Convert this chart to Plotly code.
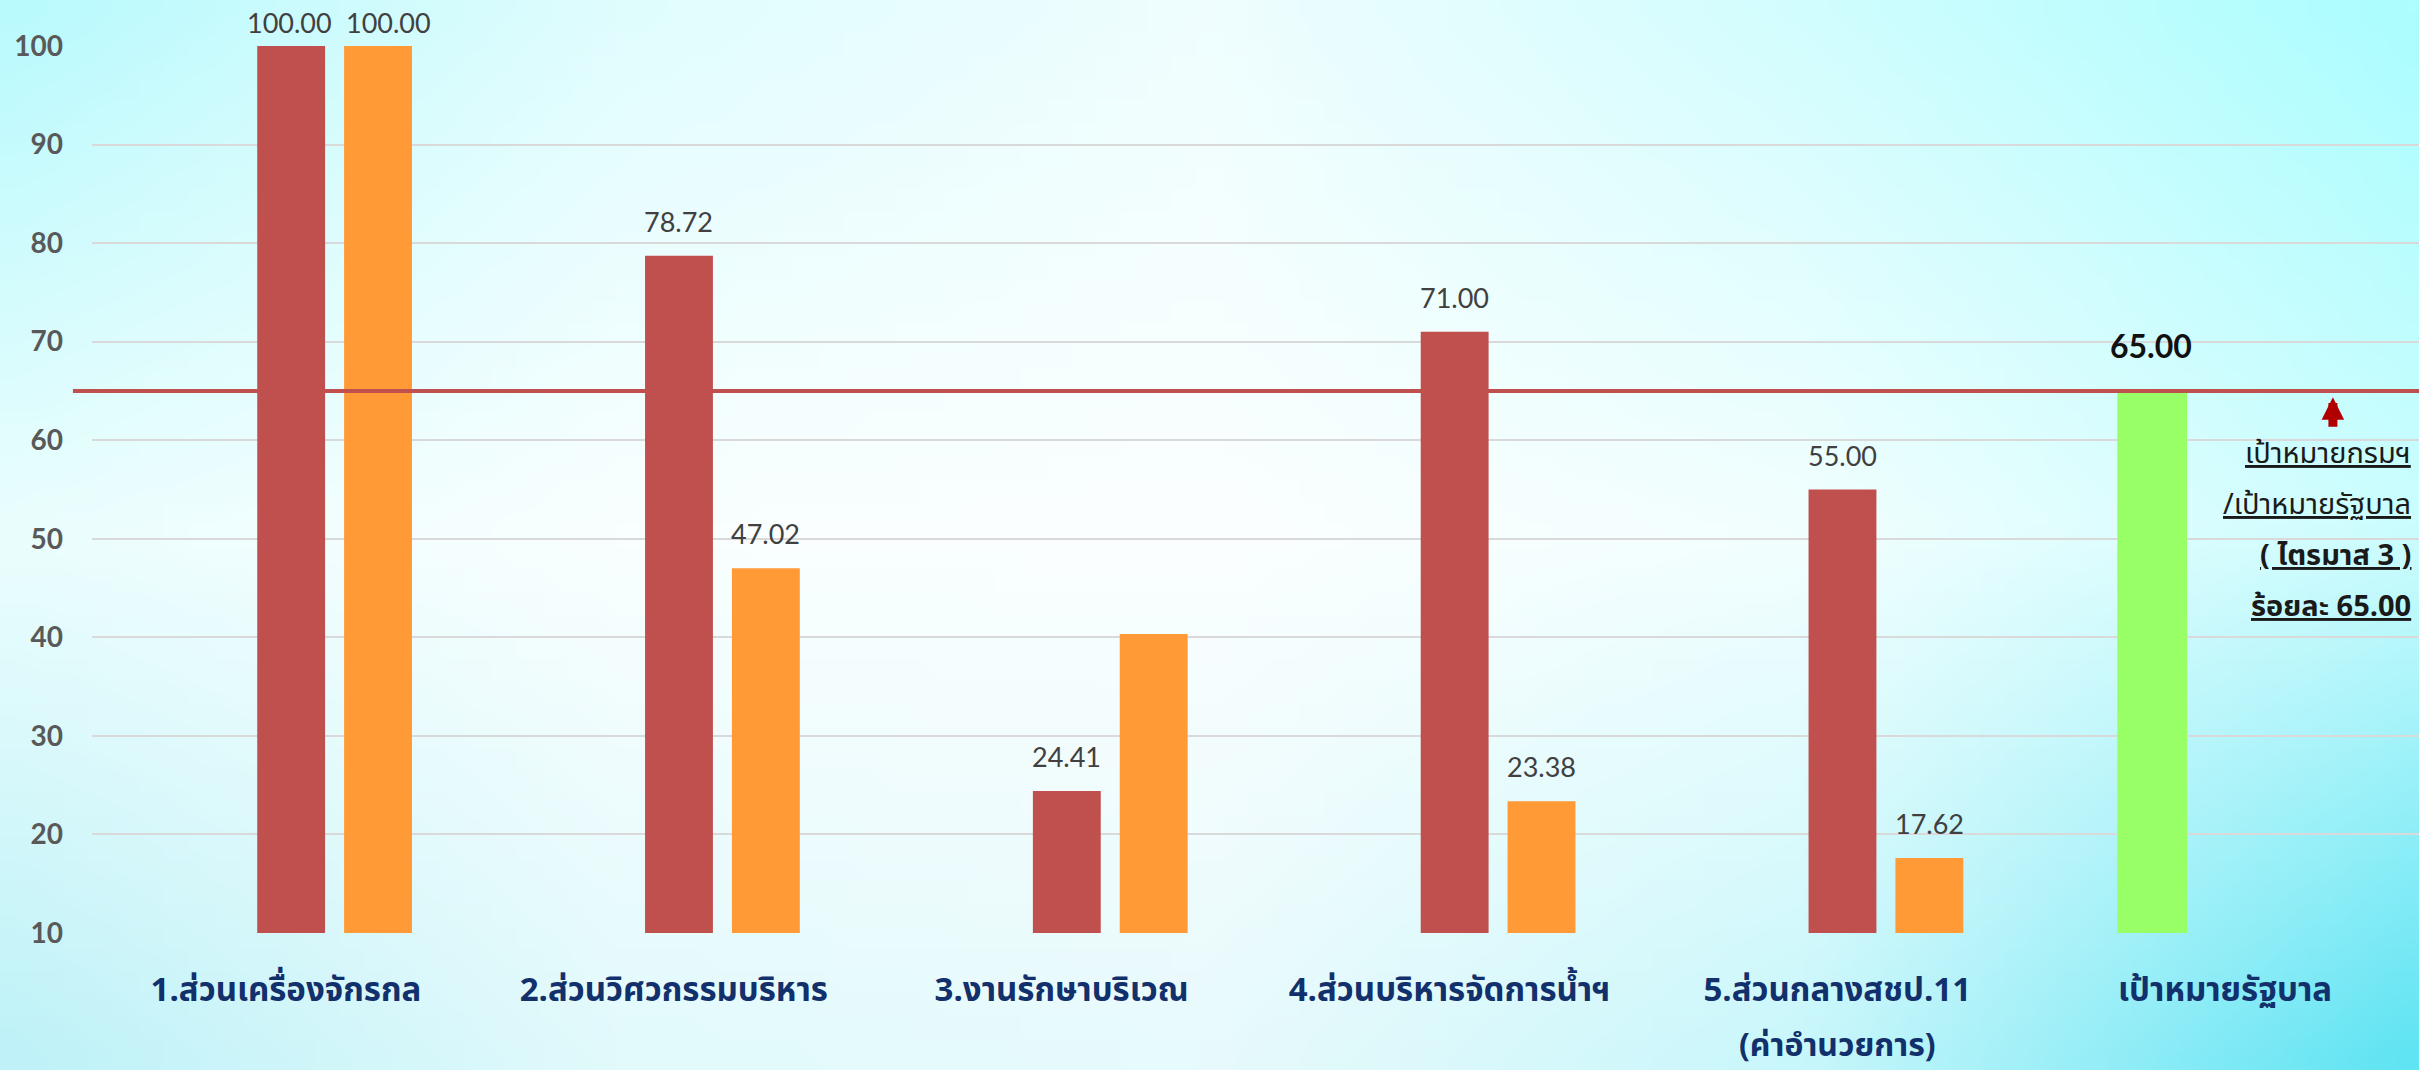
import base64
import struct
import zlib

import numpy as np
import plotly.graph_objects as go

CATEGORIES = [
    "1.ส่วนเครื่องจักรกล",
    "2.ส่วนวิศวกรรมบริหาร",
    "3.งานรักษาบริเวณ",
    "4.ส่วนบริหารจัดการน้ำฯ",
    "5.ส่วนกลางสชป.11",
    "เป้าหมายรัฐบาล",
]
# second line under a category label (widely spaced in the original)
SUB_LABELS = ["", "", "", "", "(ค่าอำนวยการ)", ""]
RESULT_RED = [100.00, 78.72, 24.41, 71.00, 55.00, None]
RESULT_ORANGE = [100.00, 47.02, 40.35, 23.38, 17.62, None]
GOV_TARGET = [None, None, None, None, None, 65.00]
# the original leaves the orange bar of item 3 unlabelled
LABEL_ORANGE = [True, True, False, True, True, False]
TARGET_LINE = 65.00
Y_TICKS = [10, 20, 30, 40, 50, 60, 70, 80, 90, 100]
NOTE_LINES = ["เป้าหมายกรมฯ", "/เป้าหมายรัฐบาล", "( ไตรมาส 3 )", "ร้อยละ 65.00"]
NOTE_BOLD = [False, False, True, True]

W, H = 2419, 1070
ML, MR, MT, MB = 92, 0, 46, 137
PW, PH = W - ML - MR, H - MT - MB

BAR_W = 0.175
OFF_RED, OFF_ORANGE, OFF_GREEN = -0.074, 0.150, -0.278

RED, ORANGE, GREEN = "#C0504D", "#FF9A36", "#99FF66"
NAVY = "#12306b"
NUM_FONT = "Lato, 'Noto Sans', sans-serif"
THAI_FONT = "'Noto Sans Thai', 'Noto Sans', Tahoma, sans-serif"


def gradient_png(stops, w=96, h=48):
    """Bilinear-upsample a small grid of RGB stops and return a PNG data uri."""
    stops = np.asarray(stops, dtype=float)
    ys = np.linspace(0, stops.shape[0] - 1, h)
    xs = np.linspace(0, stops.shape[1] - 1, w)
    rows = np.stack([np.stack([np.interp(xs, np.arange(stops.shape[1]), stops[r, :, c])
                               for c in range(3)], axis=-1) for r in range(stops.shape[0])])
    img = np.stack([np.stack([np.interp(ys, np.arange(stops.shape[0]), rows[:, x, c])
                              for c in range(3)], axis=-1) for x in range(w)], axis=1)
    img = img.clip(0, 255).astype(np.uint8)
    raw = b"".join(b"\x00" + img[i].tobytes() for i in range(h))

    def chunk(tag, data):
        body = tag + data
        return struct.pack(">I", len(data)) + body + struct.pack(">I", zlib.crc32(body) & 0xFFFFFFFF)

    png = (b"\x89PNG\r\n\x1a\n"
           + chunk(b"IHDR", struct.pack(">IIBBBBB", w, h, 8, 2, 0, 0, 0))
           + chunk(b"IDAT", zlib.compress(raw))
           + chunk(b"IEND", b""))
    return "data:image/png;base64," + base64.b64encode(png).decode()


# pale cyan slide background, brighter towards the corners
BG = gradient_png([
    [[185, 250, 253], [224, 253, 254], [240, 254, 255], [210, 253, 254], [172, 254, 255]],
    [[236, 254, 254], [250, 255, 255], [252, 255, 255], [243, 255, 255], [205, 253, 254]],
    [[190, 242, 248], [226, 250, 252], [232, 250, 252], [200, 247, 251], [95, 228, 243]],
])

fig = go.Figure()
for vals, off, color in [(RESULT_RED, OFF_RED, RED),
                         (RESULT_ORANGE, OFF_ORANGE, ORANGE),
                         (GOV_TARGET, OFF_GREEN, GREEN)]:
    fig.add_trace(go.Bar(
        x=CATEGORIES, y=vals,
        base=0, offset=off, width=BAR_W + (0.005 if color == GREEN else 0),
        marker=dict(color=color, line_width=0),
        showlegend=False,
    ))

# value labels sit well above the bars (tighter when clamped at the top)
annotations = []
for i, cat in enumerate(CATEGORIES):
    for vals, off, show, nudge in [(RESULT_RED, OFF_RED, True, -2),
                                   (RESULT_ORANGE, OFF_ORANGE, LABEL_ORANGE[i], 10)]:
        v = vals[i]
        if v is None or not show:
            continue
        annotations.append(dict(
            x=i + off + BAR_W / 2, y=v, xref="x", yref="y",
            text=f"{v:.2f}", showarrow=False, yanchor="bottom",
            yshift=5 if v >= 100 else 16, xshift=nudge if v >= 100 else 0,
            font=dict(family=NUM_FONT, size=27, color="#404040"),
        ))
    if GOV_TARGET[i] is not None:
        annotations.append(dict(
            x=i + OFF_GREEN + BAR_W / 2, y=GOV_TARGET[i], xref="x", yref="y",
            text=f"<b>{GOV_TARGET[i]:.2f}</b>", showarrow=False, yanchor="bottom",
            yshift=24, font=dict(family=NUM_FONT, size=32, color="#111111"),
        ))
    if SUB_LABELS[i]:
        annotations.append(dict(
            x=cat, y=-0.127, xref="x", yref="paper",
            text=f"<b>{SUB_LABELS[i]}</b>", showarrow=False, yanchor="middle",
            font=dict(family=THAI_FONT, size=32, color=NAVY),
        ))

# note under the target arrow on the right
for k, (line, bold) in enumerate(zip(NOTE_LINES, NOTE_BOLD)):
    txt = f"<u>{line}</u>"
    if bold:
        txt = f"<b>{txt}</b>"
    annotations.append(dict(
        x=0.9975, y=0.540 - k * 0.0575, xref="paper", yref="paper",
        text=txt, showarrow=False, xanchor="right", yanchor="middle",
        font=dict(family=THAI_FONT, size=29, color="#1a1a1a"),
    ))
annotations.append(dict(
    x=0.963, y=0.604, xref="paper", yref="paper", text="",
    showarrow=True, ax=0, ay=31, arrowhead=2, arrowsize=0.5,
    arrowwidth=9, arrowcolor="#B00000",
))

fig.add_shape(
    type="line", xref="paper", yref="y",
    x0=-0.0082, x1=1, y0=TARGET_LINE, y1=TARGET_LINE,
    line=dict(color=RED, width=4), layer="above",
)

fig.update_layout(
    width=W, height=H,
    margin=dict(l=ML, r=MR, t=MT, b=MB, pad=0),
    paper_bgcolor="#eafcfd",
    plot_bgcolor="rgba(0,0,0,0)",
    barmode="overlay",
    annotations=annotations,
    images=[dict(
        source=BG, xref="paper", yref="paper",
        x=-ML / PW, y=1 + MT / PH, sizex=W / PW, sizey=H / PH,
        xanchor="left", yanchor="top", sizing="stretch", layer="below",
    )],
)
fig.update_xaxes(
    type="category", range=[-0.5, len(CATEGORIES) - 0.5],
    showgrid=False, showline=False, zeroline=False, ticks="",
    automargin=False, ticklabelstandoff=34,
    tickfont=dict(family=THAI_FONT, size=33, color=NAVY, weight="bold"),
)
fig.update_yaxes(
    range=[10, 100], tickvals=Y_TICKS,
    showgrid=True, gridcolor="#d9d9d9", gridwidth=2,
    zeroline=False, showline=False, ticks="",
    automargin=False, ticklabelstandoff=28,
    tickfont=dict(family=NUM_FONT, size=28, color="#595959", weight="bold"),
)

fig.write_html("out.html", config={"displayModeBar": False},
               post_script="document.body.style.margin='0';")
